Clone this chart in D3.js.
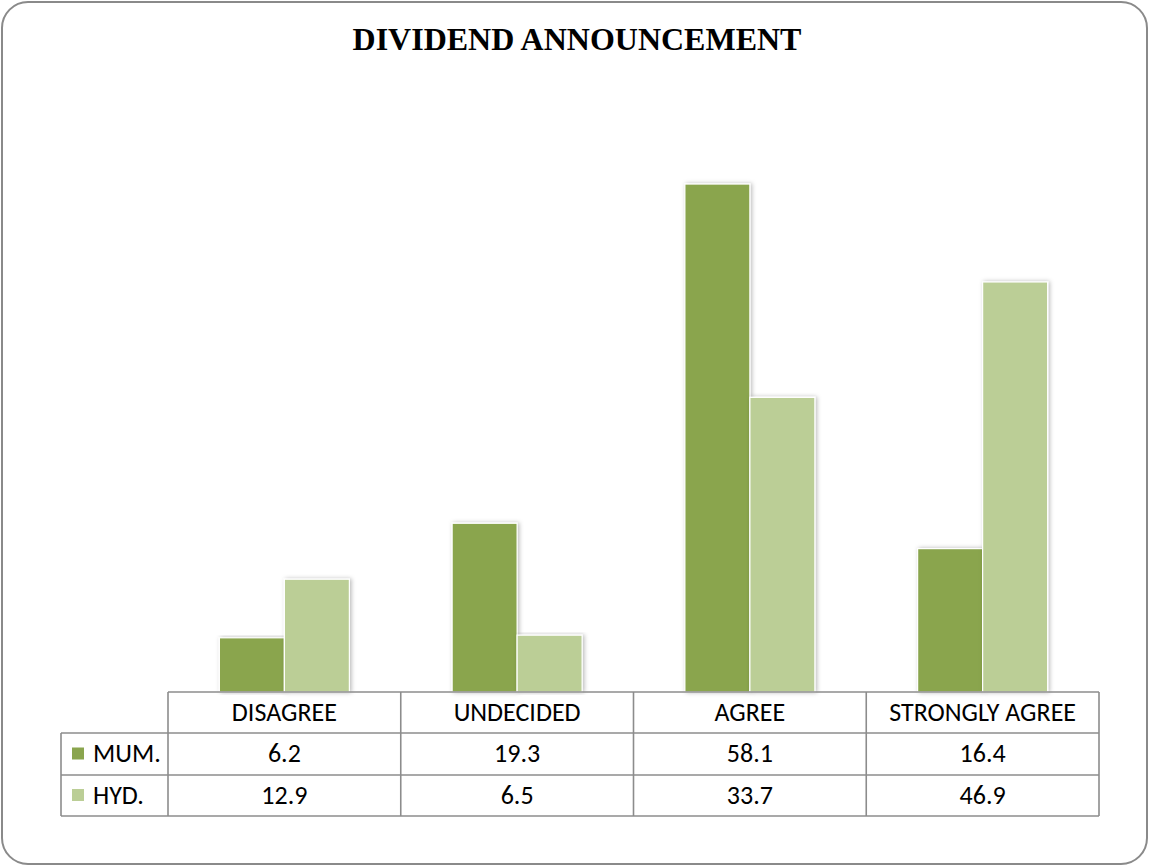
<!DOCTYPE html>
<html>
<head>
<meta charset="utf-8">
<script src="https://cdn.jsdelivr.net/npm/d3@7"></script>
<style>
  html, body { margin: 0; padding: 0; background: #fff; }
  svg { display: block; }
</style>
</head>
<body>
<svg id="chart" width="1149" height="867"></svg>
<script>
// Survey responses on dividend announcement, per city (%)
const categories = ["DISAGREE", "UNDECIDED", "AGREE", "STRONGLY AGREE"];
const seriesNames = ["MUM.", "HYD."];
const mumValues = [6.2, 19.3, 58.1, 16.4];
const hydValues = [12.9, 6.5, 33.7, 46.9];
const seriesColors = ["#8AA54E", "#BBCE96"];

const series = [mumValues, hydValues];

const W = 1149, H = 867;
const svg = d3.select("#chart");

// rounded chart frame
svg.append("rect")
  .attr("x", 2).attr("y", 2)
  .attr("width", W - 4).attr("height", H - 5)
  .attr("rx", 26).attr("ry", 26)
  .attr("fill", "#fff")
  .attr("stroke", "#8a8a8a")
  .attr("stroke-width", 2);

// soft shadow under the bars
const defs = svg.append("defs");
const f = defs.append("filter").attr("id", "barShadow")
  .attr("x", "-20%").attr("y", "-5%").attr("width", "140%").attr("height", "110%");
f.append("feDropShadow")
  .attr("dx", 1.5).attr("dy", 0)
  .attr("stdDeviation", 2)
  .attr("flood-color", "#000")
  .attr("flood-opacity", 0.28);

// title
svg.append("text")
  .attr("x", 577).attr("y", 50)
  .attr("text-anchor", "middle")
  .attr("font-family", "'Times New Roman', 'Liberation Serif', serif")
  .attr("font-weight", "bold")
  .attr("font-size", 32)
  .text("DIVIDEND ANNOUNCEMENT");

// scales
const plotLeft = 168, plotRight = 1099, baseline = 692;
const x = d3.scaleBand().domain(categories).range([plotLeft, plotRight]);
const y = d3.scaleLinear().domain([0, 70]).range([baseline, 80]);
const barW = 65;
const xs = d3.scaleBand().domain(seriesNames).range([0, barW * 2]);

// bars
const groups = svg.append("g").selectAll("g")
  .data(categories)
  .join("g")
  .attr("transform", d => `translate(${x(d) + x.bandwidth() / 2 - barW},0)`);

groups.selectAll("rect")
  .data((c, i) => seriesNames.map((s, j) => ({ s, j, v: series[j][i] })))
  .join("rect")
  .attr("x", d => xs(d.s))
  .attr("y", d => y(d.v))
  .attr("width", xs.bandwidth())
  .attr("height", d => baseline - y(d.v))
  .attr("fill", d => seriesColors[d.j])
  .attr("stroke", "#fff")
  .attr("stroke-width", 1.2)
  .attr("filter", "url(#barShadow)");

// data table under the plot
const tableLeft = 61;
const rowY = [692, 733, 775, 816];
const lineColor = "#8c8c8c";
const tbl = svg.append("g").attr("stroke", lineColor).attr("stroke-width", 1.6).attr("fill", "none");

// horizontal rules
tbl.append("line").attr("x1", plotLeft).attr("x2", plotRight).attr("y1", rowY[0]).attr("y2", rowY[0]);
[1, 2, 3].forEach(r => {
  tbl.append("line").attr("x1", tableLeft).attr("x2", plotRight).attr("y1", rowY[r]).attr("y2", rowY[r]);
});
// vertical rules
tbl.append("line").attr("x1", tableLeft).attr("x2", tableLeft).attr("y1", rowY[1]).attr("y2", rowY[3]);
const colEdges = categories.map(c => x(c)).concat([plotRight]);
colEdges.forEach(cx => {
  tbl.append("line").attr("x1", cx).attr("x2", cx).attr("y1", rowY[0]).attr("y2", rowY[3]);
});

const tableFont = "Calibri, Carlito, 'Open Sans', sans-serif";
const fs = 26;

// header labels
svg.append("g").selectAll("text")
  .data(categories)
  .join("text")
  .attr("x", d => x(d) + x.bandwidth() / 2)
  .attr("y", (rowY[0] + rowY[1]) / 2 + 8)
  .attr("text-anchor", "middle")
  .attr("font-family", tableFont)
  .attr("font-size", fs)
  .attr("fill", "#000")
  .text(d => d);

// value rows with legend keys
seriesNames.forEach((name, j) => {
  const cy = (rowY[j + 1] + rowY[j + 2]) / 2;
  svg.append("rect")
    .attr("x", 72).attr("y", cy - 6.5)
    .attr("width", 12).attr("height", 12)
    .attr("fill", seriesColors[j]);
  svg.append("text")
    .attr("x", 93).attr("y", cy + 8.3)
    .attr("font-family", tableFont)
    .attr("font-size", fs)
    .text(name);
  svg.append("g").selectAll("text")
    .data(categories)
    .join("text")
    .attr("x", d => x(d) + x.bandwidth() / 2)
    .attr("y", cy + 8.3)
    .attr("text-anchor", "middle")
    .attr("font-family", tableFont)
    .attr("font-size", fs)
    .text((d, i) => series[j][i].toFixed(1));
});
</script>
</body>
</html>
